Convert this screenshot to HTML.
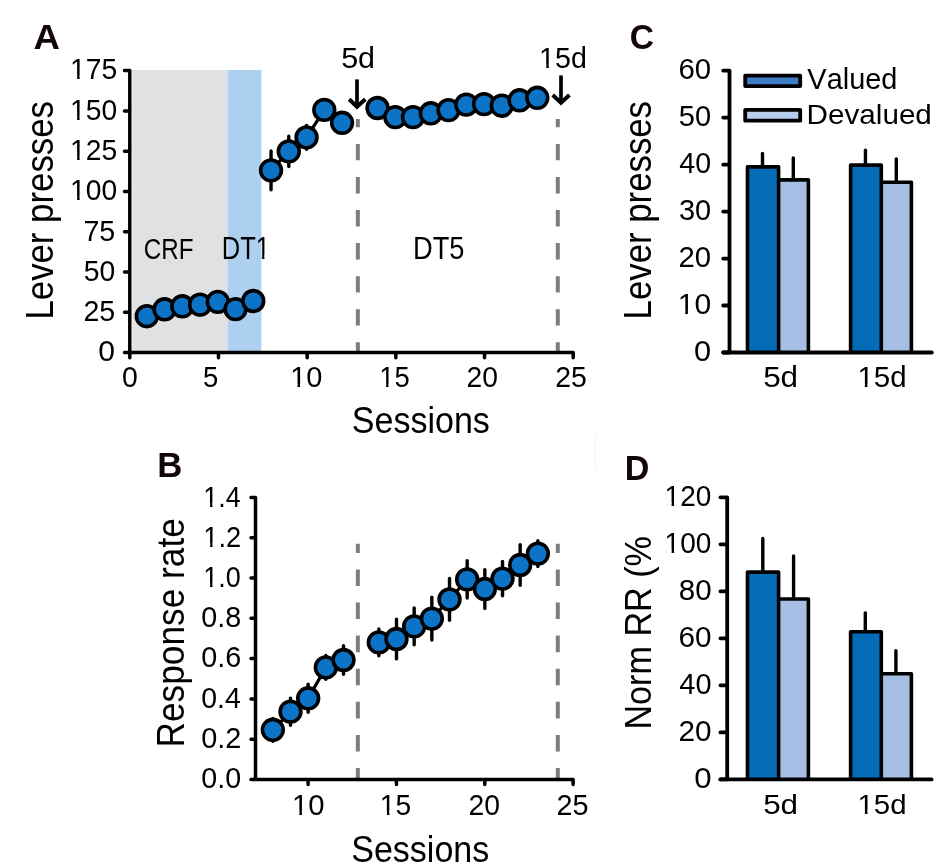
<!DOCTYPE html>
<html><head><meta charset="utf-8"><style>
html,body{margin:0;padding:0;background:#fff;}
svg{display:block;will-change:transform;}
text{font-family:"Liberation Sans",sans-serif;font-kerning:none;}
</style></head><body>
<svg width="935" height="864" viewBox="0 0 935 864">
<rect width="935" height="864" fill="#fff"/>
<line x1="595.50" y1="435.50" x2="595.50" y2="470.50" stroke="#f2f2f2" stroke-width="1.0" />
<rect x="132.4" y="70.00" width="95.20" height="282.60" fill="#e0e1e3"/>
<rect x="227.6" y="70.00" width="33.80" height="282.60" fill="#add0f1"/>
<line x1="357.85" y1="119.00" x2="357.85" y2="352.60" stroke="#7d7d7d" stroke-width="4.0" stroke-dasharray="16.4 16.65" stroke-dashoffset="8.1"/>
<line x1="557.80" y1="119.00" x2="557.80" y2="352.60" stroke="#7d7d7d" stroke-width="4.0" stroke-dasharray="16.4 16.65" stroke-dashoffset="8.1"/>
<path d="M124.5,70.60 H129.8 V352.6 M124.5,352.6 H573.2 V357.75 M124.5,352.60 H129.8 M124.5,312.31 H129.8 M124.5,272.03 H129.8 M124.5,231.74 H129.8 M124.5,191.46 H129.8 M124.5,151.17 H129.8 M124.5,110.89 H129.8 M124.5,70.60 H129.8 M129.80,352.6 V357.75 M218.48,352.6 V357.75 M307.16,352.6 V357.75 M395.84,352.6 V357.75 M484.52,352.6 V357.75 M573.20,352.6 V357.75" fill="none" stroke="#000" stroke-width="3.5" stroke-linecap="round" stroke-linejoin="round"/>
<text transform="translate(98.32,361.47) scale(1.0404,1)" font-size="28.95">0</text>
<text transform="translate(83.46,321.18) scale(0.9887,1)" font-size="28.95">25</text>
<text transform="translate(83.77,280.90) scale(0.9761,1)" font-size="28.95">50</text>
<text transform="translate(83.43,240.61) scale(0.9753,1)" font-size="29.38">75</text>
<text transform="translate(70.05,200.32) scale(0.9739,1)" font-size="28.95">100</text>
<rect x="71.74" y="196.71" width="5.40" height="5.07" fill="#fff"/>
<rect x="79.63" y="196.71" width="5.22" height="5.07" fill="#fff"/>
<text transform="translate(70.05,160.04) scale(0.9758,1)" font-size="28.95">125</text>
<rect x="71.74" y="156.42" width="5.41" height="5.07" fill="#fff"/>
<rect x="79.65" y="156.42" width="5.23" height="5.07" fill="#fff"/>
<text transform="translate(70.05,119.75) scale(0.9739,1)" font-size="28.95">150</text>
<rect x="71.74" y="116.13" width="5.40" height="5.07" fill="#fff"/>
<rect x="79.63" y="116.13" width="5.22" height="5.07" fill="#fff"/>
<text transform="translate(70.05,79.46) scale(0.9616,1)" font-size="29.38">175</text>
<rect x="71.74" y="75.79" width="5.41" height="5.14" fill="#fff"/>
<rect x="79.65" y="75.79" width="5.23" height="5.14" fill="#fff"/>
<text transform="translate(122.09,387.32) scale(0.9923,1)" font-size="28.67">0</text>
<text transform="translate(202.90,387.32) scale(0.9425,1)" font-size="29.09">5</text>
<text transform="translate(290.19,387.32) scale(1.0109,1)" font-size="28.67">10</text>
<rect x="291.93" y="383.74" width="5.55" height="5.02" fill="#fff"/>
<rect x="300.04" y="383.74" width="5.37" height="5.02" fill="#fff"/>
<text transform="translate(379.22,387.32) scale(0.9404,1)" font-size="29.09">15</text>
<rect x="380.86" y="383.68" width="5.24" height="5.09" fill="#fff"/>
<rect x="388.51" y="383.68" width="5.07" height="5.09" fill="#fff"/>
<text transform="translate(466.48,387.32) scale(0.9853,1)" font-size="28.67">20</text>
<text transform="translate(555.27,387.32) scale(0.9916,1)" font-size="28.67">25</text>
<path d="M146.80,316.20 L164.55,309.30 L182.30,306.30 L200.05,304.70 L217.80,301.90 L235.54,309.10 L253.29,301.00 M271.04,170.35 L288.79,151.40 L306.54,137.40 L324.29,109.90 L342.04,122.80 M377.54,108.00 L395.28,117.10 L413.03,117.10 L430.78,113.30 L448.53,110.10 L466.28,104.60 L484.03,104.10 L501.78,105.70 L519.53,100.30 L537.28,97.80" fill="none" stroke="#000" stroke-width="3.2"/>
<line x1="271.04" y1="150.95" x2="271.04" y2="189.75" stroke="#000" stroke-width="3.4" stroke-linecap="round"/>
<line x1="288.79" y1="136.30" x2="288.79" y2="166.50" stroke="#000" stroke-width="3.4" stroke-linecap="round"/>
<line x1="306.54" y1="125.50" x2="306.54" y2="149.30" stroke="#000" stroke-width="3.4" stroke-linecap="round"/>
<circle cx="146.80" cy="316.20" r="10.4" fill="#0c73c6" stroke="#000" stroke-width="3.6"/>
<circle cx="164.55" cy="309.30" r="10.4" fill="#0c73c6" stroke="#000" stroke-width="3.6"/>
<circle cx="182.30" cy="306.30" r="10.4" fill="#0c73c6" stroke="#000" stroke-width="3.6"/>
<circle cx="200.05" cy="304.70" r="10.4" fill="#0c73c6" stroke="#000" stroke-width="3.6"/>
<circle cx="217.80" cy="301.90" r="10.4" fill="#0c73c6" stroke="#000" stroke-width="3.6"/>
<circle cx="235.54" cy="309.10" r="10.4" fill="#0c73c6" stroke="#000" stroke-width="3.6"/>
<circle cx="253.29" cy="301.00" r="10.4" fill="#0c73c6" stroke="#000" stroke-width="3.6"/>
<circle cx="271.04" cy="170.35" r="10.4" fill="#0c73c6" stroke="#000" stroke-width="3.6"/>
<circle cx="288.79" cy="151.40" r="10.4" fill="#0c73c6" stroke="#000" stroke-width="3.6"/>
<circle cx="306.54" cy="137.40" r="10.4" fill="#0c73c6" stroke="#000" stroke-width="3.6"/>
<circle cx="324.29" cy="109.90" r="10.4" fill="#0c73c6" stroke="#000" stroke-width="3.6"/>
<circle cx="342.04" cy="122.80" r="10.4" fill="#0c73c6" stroke="#000" stroke-width="3.6"/>
<circle cx="377.54" cy="108.00" r="10.4" fill="#0c73c6" stroke="#000" stroke-width="3.6"/>
<circle cx="395.28" cy="117.10" r="10.4" fill="#0c73c6" stroke="#000" stroke-width="3.6"/>
<circle cx="413.03" cy="117.10" r="10.4" fill="#0c73c6" stroke="#000" stroke-width="3.6"/>
<circle cx="430.78" cy="113.30" r="10.4" fill="#0c73c6" stroke="#000" stroke-width="3.6"/>
<circle cx="448.53" cy="110.10" r="10.4" fill="#0c73c6" stroke="#000" stroke-width="3.6"/>
<circle cx="466.28" cy="104.60" r="10.4" fill="#0c73c6" stroke="#000" stroke-width="3.6"/>
<circle cx="484.03" cy="104.10" r="10.4" fill="#0c73c6" stroke="#000" stroke-width="3.6"/>
<circle cx="501.78" cy="105.70" r="10.4" fill="#0c73c6" stroke="#000" stroke-width="3.6"/>
<circle cx="519.53" cy="100.30" r="10.4" fill="#0c73c6" stroke="#000" stroke-width="3.6"/>
<circle cx="537.28" cy="97.80" r="10.4" fill="#0c73c6" stroke="#000" stroke-width="3.6"/>
<line x1="357.00" y1="79.40" x2="357.00" y2="106.60" stroke="#000" stroke-width="3.7" />
<path d="M349.2,99.3 L357.0,106.8 L365.3,99.3" fill="none" stroke="#000" stroke-width="4.0" stroke-linejoin="miter"/>
<line x1="561.00" y1="75.40" x2="561.00" y2="102.50" stroke="#000" stroke-width="3.7" />
<path d="M552.7,95.1 L561.0,102.7 L569.4,95.1" fill="none" stroke="#000" stroke-width="4.0" stroke-linejoin="miter"/>
<text transform="translate(341.18,68.00) scale(1.0585,1)" font-size="28.78">5d</text>
<text transform="translate(539.07,68.00) scale(0.9950,1)" font-size="28.78">15d</text>
<rect x="540.79" y="64.40" width="5.48" height="5.04" fill="#fff"/>
<rect x="548.80" y="64.40" width="5.30" height="5.04" fill="#fff"/>
<text transform="translate(143.77,258.90) scale(0.8000,1)" font-size="30.23">CRF</text>
<text transform="translate(221.71,259.00) scale(0.8287,1)" font-size="30.81">DT1</text>
<rect x="257.28" y="255.15" width="4.12" height="5.39" fill="#add0f1"/>
<rect x="261.40" y="255.15" width="0.77" height="5.39" fill="#fff"/>
<rect x="264.42" y="255.15" width="4.73" height="5.39" fill="#fff"/>
<text transform="translate(412.96,259.20) scale(0.8761,1)" font-size="31.11">DT5</text>
<text transform="translate(53.20,319.56) rotate(-90) scale(0.9002,1)" font-size="38.66">Lever presses</text>
<text transform="translate(351.86,433.40) scale(0.9032,1)" font-size="37.65">Sessions</text>
<text transform="translate(33.49,48.80) scale(1.0339,1)" font-size="35.47" font-weight="bold" fill="#120608">A</text>
<line x1="357.85" y1="543.80" x2="357.85" y2="779.50" stroke="#7d7d7d" stroke-width="4.0" stroke-dasharray="16.6 16.5" stroke-dashoffset="7.5"/>
<line x1="557.80" y1="543.80" x2="557.80" y2="779.50" stroke="#7d7d7d" stroke-width="4.0" stroke-dasharray="16.6 16.5" stroke-dashoffset="7.5"/>
<path d="M251.0,497.40 H255.5 V779.5 M251.0,779.5 H573.1 V784.4 M251.0,779.50 H255.5 M251.0,739.20 H255.5 M251.0,698.90 H255.5 M251.0,658.60 H255.5 M251.0,618.30 H255.5 M251.0,578.00 H255.5 M251.0,537.70 H255.5 M251.0,497.40 H255.5 M308.10,779.5 V784.4 M396.44,779.5 V784.4 M484.77,779.5 V784.4 M573.11,779.5 V784.4" fill="none" stroke="#000" stroke-width="3.5" stroke-linecap="round" stroke-linejoin="round"/>
<text transform="translate(201.28,788.37) scale(0.9898,1)" font-size="28.95">0.0</text>
<text transform="translate(201.27,748.07) scale(0.9983,1)" font-size="28.95">0.2</text>
<text transform="translate(201.29,707.77) scale(0.9825,1)" font-size="28.95">0.4</text>
<text transform="translate(201.28,667.47) scale(0.9935,1)" font-size="28.95">0.6</text>
<text transform="translate(201.28,627.17) scale(0.9931,1)" font-size="28.95">0.8</text>
<text transform="translate(203.34,586.87) scale(0.9319,1)" font-size="28.95">1.0</text>
<rect x="204.96" y="583.25" width="5.17" height="5.07" fill="#fff"/>
<rect x="212.51" y="583.25" width="5.00" height="5.07" fill="#fff"/>
<text transform="translate(203.33,546.85) scale(0.9272,1)" font-size="29.36">1.2</text>
<rect x="204.96" y="543.18" width="5.21" height="5.14" fill="#fff"/>
<rect x="212.58" y="543.18" width="5.04" height="5.14" fill="#fff"/>
<text transform="translate(203.36,506.55) scale(0.8987,1)" font-size="29.80">1.4</text>
<rect x="204.97" y="502.83" width="5.13" height="5.21" fill="#fff"/>
<rect x="212.46" y="502.83" width="4.96" height="5.21" fill="#fff"/>
<text transform="translate(291.97,814.72) scale(1.0214,1)" font-size="28.67">10</text>
<rect x="293.73" y="811.14" width="5.61" height="5.02" fill="#fff"/>
<rect x="301.92" y="811.14" width="5.42" height="5.02" fill="#fff"/>
<text transform="translate(379.85,814.72) scale(0.9681,1)" font-size="29.09">15</text>
<rect x="381.54" y="811.08" width="5.39" height="5.09" fill="#fff"/>
<rect x="389.43" y="811.08" width="5.22" height="5.09" fill="#fff"/>
<text transform="translate(468.57,814.72) scale(0.9887,1)" font-size="28.67">20</text>
<text transform="translate(556.45,814.72) scale(1.0053,1)" font-size="28.67">25</text>
<path d="M272.84,729.80 L290.50,711.70 L308.17,698.30 L325.84,667.40 L343.50,660.00 M378.84,642.40 L396.50,639.00 L414.17,626.40 L431.84,618.60 L449.51,599.40 L467.17,579.40 L484.84,589.00 L502.51,578.60 L520.17,565.00 L537.84,553.60" fill="none" stroke="#000" stroke-width="3.2"/>
<line x1="272.84" y1="718.40" x2="272.84" y2="741.20" stroke="#000" stroke-width="3.4" stroke-linecap="round"/>
<line x1="290.50" y1="698.10" x2="290.50" y2="725.30" stroke="#000" stroke-width="3.4" stroke-linecap="round"/>
<line x1="308.17" y1="684.30" x2="308.17" y2="712.30" stroke="#000" stroke-width="3.4" stroke-linecap="round"/>
<line x1="325.84" y1="655.50" x2="325.84" y2="679.30" stroke="#000" stroke-width="3.4" stroke-linecap="round"/>
<line x1="343.50" y1="645.80" x2="343.50" y2="674.20" stroke="#000" stroke-width="3.4" stroke-linecap="round"/>
<line x1="378.84" y1="629.00" x2="378.84" y2="655.80" stroke="#000" stroke-width="3.4" stroke-linecap="round"/>
<line x1="396.50" y1="619.10" x2="396.50" y2="658.90" stroke="#000" stroke-width="3.4" stroke-linecap="round"/>
<line x1="414.17" y1="608.00" x2="414.17" y2="644.80" stroke="#000" stroke-width="3.4" stroke-linecap="round"/>
<line x1="431.84" y1="597.20" x2="431.84" y2="640.00" stroke="#000" stroke-width="3.4" stroke-linecap="round"/>
<line x1="449.51" y1="578.50" x2="449.51" y2="620.30" stroke="#000" stroke-width="3.4" stroke-linecap="round"/>
<line x1="467.17" y1="560.70" x2="467.17" y2="598.10" stroke="#000" stroke-width="3.4" stroke-linecap="round"/>
<line x1="484.84" y1="569.60" x2="484.84" y2="608.40" stroke="#000" stroke-width="3.4" stroke-linecap="round"/>
<line x1="502.51" y1="561.40" x2="502.51" y2="595.80" stroke="#000" stroke-width="3.4" stroke-linecap="round"/>
<line x1="520.17" y1="544.80" x2="520.17" y2="585.20" stroke="#000" stroke-width="3.4" stroke-linecap="round"/>
<line x1="537.84" y1="540.70" x2="537.84" y2="566.50" stroke="#000" stroke-width="3.4" stroke-linecap="round"/>
<circle cx="272.84" cy="729.80" r="10.4" fill="#0c73c6" stroke="#000" stroke-width="3.6"/>
<circle cx="290.50" cy="711.70" r="10.4" fill="#0c73c6" stroke="#000" stroke-width="3.6"/>
<circle cx="308.17" cy="698.30" r="10.4" fill="#0c73c6" stroke="#000" stroke-width="3.6"/>
<circle cx="325.84" cy="667.40" r="10.4" fill="#0c73c6" stroke="#000" stroke-width="3.6"/>
<circle cx="343.50" cy="660.00" r="10.4" fill="#0c73c6" stroke="#000" stroke-width="3.6"/>
<circle cx="378.84" cy="642.40" r="10.4" fill="#0c73c6" stroke="#000" stroke-width="3.6"/>
<circle cx="396.50" cy="639.00" r="10.4" fill="#0c73c6" stroke="#000" stroke-width="3.6"/>
<circle cx="414.17" cy="626.40" r="10.4" fill="#0c73c6" stroke="#000" stroke-width="3.6"/>
<circle cx="431.84" cy="618.60" r="10.4" fill="#0c73c6" stroke="#000" stroke-width="3.6"/>
<circle cx="449.51" cy="599.40" r="10.4" fill="#0c73c6" stroke="#000" stroke-width="3.6"/>
<circle cx="467.17" cy="579.40" r="10.4" fill="#0c73c6" stroke="#000" stroke-width="3.6"/>
<circle cx="484.84" cy="589.00" r="10.4" fill="#0c73c6" stroke="#000" stroke-width="3.6"/>
<circle cx="502.51" cy="578.60" r="10.4" fill="#0c73c6" stroke="#000" stroke-width="3.6"/>
<circle cx="520.17" cy="565.00" r="10.4" fill="#0c73c6" stroke="#000" stroke-width="3.6"/>
<circle cx="537.84" cy="553.60" r="10.4" fill="#0c73c6" stroke="#000" stroke-width="3.6"/>
<text transform="translate(184.20,747.49) rotate(-90) scale(0.9225,1)" font-size="38.23">Response rate</text>
<text transform="translate(351.25,862.30) scale(0.9181,1)" font-size="37.06">Sessions</text>
<text transform="translate(157.17,476.60) scale(0.9722,1)" font-size="35.76" font-weight="bold" fill="#120608">B</text>
<path d="M723.2,70.60 H729.5 V352.5 M723.2,352.50 H729.5 M723.2,305.52 H729.5 M723.2,258.53 H729.5 M723.2,211.55 H729.5 M723.2,164.57 H729.5 M723.2,117.58 H729.5 M723.2,70.60 H729.5" fill="none" stroke="#000" stroke-width="3.8" stroke-linecap="round" stroke-linejoin="round"/>
<text transform="translate(694.10,361.37) scale(1.0621,1)" font-size="28.95">0</text>
<text transform="translate(677.71,314.38) scale(1.0392,1)" font-size="28.95">10</text>
<rect x="679.51" y="310.76" width="5.76" height="5.07" fill="#fff"/>
<rect x="687.93" y="310.76" width="5.57" height="5.07" fill="#fff"/>
<text transform="translate(678.53,267.40) scale(1.0129,1)" font-size="28.95">20</text>
<text transform="translate(678.90,220.42) scale(1.0009,1)" font-size="28.95">30</text>
<text transform="translate(679.34,173.43) scale(0.9865,1)" font-size="28.95">40</text>
<text transform="translate(678.84,126.45) scale(1.0028,1)" font-size="28.95">50</text>
<text transform="translate(678.51,79.47) scale(1.0133,1)" font-size="28.95">60</text>
<line x1="762.50" y1="153.50" x2="762.50" y2="166.90" stroke="#000" stroke-width="3.4" stroke-linecap="round"/>
<line x1="793.30" y1="157.90" x2="793.30" y2="179.90" stroke="#000" stroke-width="3.4" stroke-linecap="round"/>
<rect x="747.50" y="166.90" width="31.10" height="185.60" fill="#046bb7"/>
<rect x="778.60" y="179.90" width="29.80" height="172.60" fill="#a6bee4"/>
<path d="M747.50,352.50 V166.90 H778.60 V352.50 M778.60,179.90 H808.40 V352.50" fill="none" stroke="#000" stroke-width="3.6" stroke-linejoin="round"/>
<line x1="865.45" y1="150.30" x2="865.45" y2="165.10" stroke="#000" stroke-width="3.4" stroke-linecap="round"/>
<line x1="896.30" y1="158.90" x2="896.30" y2="182.30" stroke="#000" stroke-width="3.4" stroke-linecap="round"/>
<rect x="850.60" y="165.10" width="30.70" height="187.40" fill="#046bb7"/>
<rect x="881.30" y="182.30" width="30.10" height="170.20" fill="#a6bee4"/>
<path d="M850.60,352.50 V165.10 H881.30 V352.50 M881.30,182.30 H911.40 V352.50" fill="none" stroke="#000" stroke-width="3.6" stroke-linejoin="round"/>
<path d="M723.2,352.5 H931.8" fill="none" stroke="#000" stroke-width="3.8" stroke-linecap="round" stroke-linejoin="round"/>
<rect x="745.20" y="75.70" width="55.00" height="10.40" fill="#3f7cc6" stroke="#000" stroke-width="3.8" stroke-linejoin="round"/>
<rect x="745.20" y="109.90" width="55.00" height="10.80" fill="#b8cdee" stroke="#000" stroke-width="3.8" stroke-linejoin="round"/>
<text transform="translate(807.37,88.90) scale(0.9854,1)" font-size="29.36">Valued</text>
<text transform="translate(806.57,123.50) scale(1.0467,1)" font-size="28.34">Devalued</text>
<text transform="translate(763.14,387.40) scale(1.0713,1)" font-size="29.36">5d</text>
<text transform="translate(857.46,387.40) scale(1.0032,1)" font-size="29.36">15d</text>
<rect x="859.22" y="383.73" width="5.64" height="5.14" fill="#fff"/>
<rect x="867.46" y="383.73" width="5.45" height="5.14" fill="#fff"/>
<text transform="translate(650.70,319.45) rotate(-90) scale(0.8965,1)" font-size="38.81">Lever presses</text>
<text transform="translate(629.63,48.85) scale(0.9337,1)" font-size="35.88" font-weight="bold" fill="#120608">C</text>
<path d="M720.4,497.30 H727.2 V779.4 M720.4,779.40 H727.2 M720.4,732.38 H727.2 M720.4,685.37 H727.2 M720.4,638.35 H727.2 M720.4,591.33 H727.2 M720.4,544.32 H727.2 M720.4,497.30 H727.2" fill="none" stroke="#000" stroke-width="3.8" stroke-linecap="round" stroke-linejoin="round"/>
<text transform="translate(694.28,788.27) scale(1.0765,1)" font-size="28.95">0</text>
<text transform="translate(678.51,741.25) scale(1.0264,1)" font-size="28.95">20</text>
<text transform="translate(679.34,694.23) scale(0.9996,1)" font-size="28.95">40</text>
<text transform="translate(678.49,647.22) scale(1.0269,1)" font-size="28.95">60</text>
<text transform="translate(678.72,600.20) scale(1.0196,1)" font-size="28.95">80</text>
<text transform="translate(664.57,553.18) scale(0.9673,1)" font-size="28.95">100</text>
<rect x="666.25" y="549.56" width="5.36" height="5.07" fill="#fff"/>
<rect x="674.08" y="549.56" width="5.19" height="5.07" fill="#fff"/>
<text transform="translate(664.57,506.17) scale(0.9673,1)" font-size="28.95">120</text>
<rect x="666.25" y="502.55" width="5.36" height="5.07" fill="#fff"/>
<rect x="674.08" y="502.55" width="5.19" height="5.07" fill="#fff"/>
<line x1="762.80" y1="538.40" x2="762.80" y2="572.10" stroke="#000" stroke-width="3.4" stroke-linecap="round"/>
<line x1="793.60" y1="555.90" x2="793.60" y2="599.00" stroke="#000" stroke-width="3.4" stroke-linecap="round"/>
<rect x="747.50" y="572.10" width="31.10" height="207.30" fill="#046bb7"/>
<rect x="778.60" y="599.00" width="29.80" height="180.40" fill="#a6bee4"/>
<path d="M747.50,779.40 V572.10 H778.60 V779.40 M778.60,599.00 H808.40 V779.40" fill="none" stroke="#000" stroke-width="3.6" stroke-linejoin="round"/>
<line x1="865.30" y1="612.90" x2="865.30" y2="631.80" stroke="#000" stroke-width="3.4" stroke-linecap="round"/>
<line x1="895.90" y1="650.70" x2="895.90" y2="673.80" stroke="#000" stroke-width="3.4" stroke-linecap="round"/>
<rect x="850.60" y="631.80" width="30.70" height="147.60" fill="#046bb7"/>
<rect x="881.30" y="673.80" width="30.10" height="105.60" fill="#a6bee4"/>
<path d="M850.60,779.40 V631.80 H881.30 V779.40 M881.30,673.80 H911.40 V779.40" fill="none" stroke="#000" stroke-width="3.6" stroke-linejoin="round"/>
<path d="M720.4,779.4 H931.6" fill="none" stroke="#000" stroke-width="3.8" stroke-linecap="round" stroke-linejoin="round"/>
<text transform="translate(763.14,814.40) scale(1.1098,1)" font-size="28.34">5d</text>
<text transform="translate(857.46,814.40) scale(1.0392,1)" font-size="28.34">15d</text>
<rect x="859.22" y="810.86" width="5.64" height="4.96" fill="#fff"/>
<rect x="867.46" y="810.86" width="5.45" height="4.96" fill="#fff"/>
<text transform="translate(650.50,729.60) rotate(-90) scale(0.9042,1)" font-size="37.79">Norm RR (%</text>
<text transform="translate(624.72,479.70) scale(0.9492,1)" font-size="35.90" font-weight="bold" fill="#120608">D</text>
</svg>
</body></html>
